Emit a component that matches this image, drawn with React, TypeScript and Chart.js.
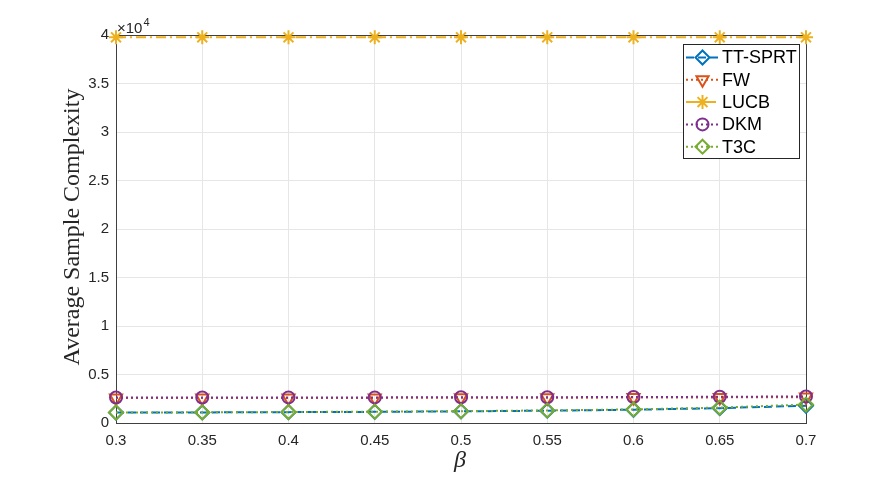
import React, { useEffect, useRef } from 'react';
import { Chart, registerables } from 'chart.js';
Chart.register(...registerables);

// ---- data ----
const betas = [0.3, 0.35, 0.4, 0.45, 0.5, 0.55, 0.6, 0.65, 0.7];
const ttSprt = [1070, 1090, 1120, 1150, 1200, 1270, 1370, 1530, 1780];
const fw = [2580, 2580, 2590, 2590, 2600, 2610, 2620, 2640, 2670];
const lucb = [39760, 39760, 39760, 39760, 39760, 39760, 39760, 39760, 39760];
const dkm = [2630, 2630, 2640, 2640, 2650, 2660, 2680, 2700, 2740];
const t3c = [1080, 1100, 1130, 1170, 1220, 1300, 1400, 1590, 1900];
const xTicks = [0.3, 0.35, 0.4, 0.45, 0.5, 0.55, 0.6, 0.65, 0.7];
const yTicks = [0, 5000, 10000, 15000, 20000, 25000, 30000, 35000, 40000];
const seriesNames = ['TT-SPRT', 'FW', 'LUCB', 'DKM', 'T3C'];
const xTitle = 'β';
const yTitle = 'Average Sample Complexity';

type Style = { color: string; dash: number[]; marker: string; r: number };
const styles: Style[] = [
  { color: '#0072BD', dash: [8, 4], marker: 'diamond', r: 7 },
  { color: '#D95319', dash: [2, 3], marker: 'triDown', r: 7 },
  { color: '#EDB120', dash: [10, 4, 2, 4], marker: 'star', r: 7 },
  { color: '#7E2F8E', dash: [2, 3], marker: 'circle', r: 6 },
  { color: '#77AC30', dash: [2, 3], marker: 'diamond', r: 7 },
];
const seriesValues = [ttSprt, fw, lucb, dkm, t3c];

const SANS = '"Liberation Sans", Arial, Helvetica, sans-serif';
const SERIF = '"Liberation Serif", "Times New Roman", serif';
const AXIS = '#262626';

function drawMarker(ctx: CanvasRenderingContext2D, m: string, x: number, y: number, r: number) {
  ctx.beginPath();
  if (m === 'diamond') {
    ctx.moveTo(x, y - r); ctx.lineTo(x + r, y); ctx.lineTo(x, y + r); ctx.lineTo(x - r, y); ctx.closePath();
  } else if (m === 'triDown') {
    for (let k = 0; k < 3; k++) {
      const a = Math.PI + (k * 2 * Math.PI) / 3;
      const px = x + Math.sin(a) * r, py = y - Math.cos(a) * r;
      if (k === 0) ctx.moveTo(px, py); else ctx.lineTo(px, py);
    }
    ctx.closePath();
  } else if (m === 'star') {
    for (let k = 0; k < 4; k++) {
      const a = (k * Math.PI) / 4;
      ctx.moveTo(x - Math.cos(a) * r, y - Math.sin(a) * r);
      ctx.lineTo(x + Math.cos(a) * r, y + Math.sin(a) * r);
    }
  } else {
    ctx.arc(x, y, r, 0, Math.PI * 2);
  }
  ctx.stroke();
}

const overlay = {
  id: 'overlay',
  beforeDatasetsDraw(chart: any) {
    const { ctx, chartArea: a } = chart;
    ctx.save();
    ctx.strokeStyle = '#404040';
    ctx.lineWidth = 1;
    ctx.setLineDash([]);
    ctx.strokeRect(Math.round(a.left) + 0.5, Math.round(a.top) + 0.5, Math.round(a.right - a.left), Math.round(a.bottom - a.top));
    ctx.restore();
  },
  afterDraw(chart: any) {
    const { ctx, chartArea: a } = chart;
    ctx.save();
    ctx.fillStyle = AXIS;
    // exponent
    ctx.font = `15px ${SANS}`;
    ctx.textAlign = 'left';
    ctx.textBaseline = 'alphabetic';
    ctx.fillText('×10', a.left + 1, a.top - 2);
    const w = ctx.measureText('×10').width;
    ctx.font = `11px ${SANS}`;
    ctx.fillText('4', a.left + 2 + w, a.top - 9);
    // y title
    ctx.font = `20px ${SERIF}`;
    const tw = ctx.measureText(yTitle).width;
    const fs = (20 * 277) / tw;
    ctx.font = `${fs.toFixed(1)}px ${SERIF}`;
    ctx.translate(79, (a.top + a.bottom) / 2 - 2);
    ctx.rotate(-Math.PI / 2);
    ctx.textAlign = 'center';
    ctx.fillText(yTitle, 0, 0);
    ctx.setTransform(1, 0, 0, 1, 0, 0);
    // x title
    ctx.font = `italic 24px ${SERIF}`;
    ctx.textAlign = 'center';
    ctx.fillText(xTitle, 460, 467);
    // legend
    const lx = 683, ly = 44, lw = 116, lh = 114;
    ctx.fillStyle = '#ffffff';
    ctx.fillRect(lx, ly, lw, lh);
    ctx.strokeStyle = AXIS;
    ctx.lineWidth = 1;
    ctx.strokeRect(lx + 0.5, ly + 0.5, lw, lh);
    ctx.font = `18px ${SANS}`;
    ctx.textAlign = 'left';
    ctx.textBaseline = 'middle';
    seriesNames.forEach((name, i) => {
      const s = styles[i];
      const y = 57.5 + i * 22.3;
      ctx.strokeStyle = s.color;
      ctx.lineWidth = 2;
      ctx.setLineDash(s.dash);
      ctx.beginPath();
      ctx.moveTo(686, y);
      ctx.lineTo(719, y);
      ctx.stroke();
      ctx.setLineDash([]);
      drawMarker(ctx, s.marker, 702.5, y, s.r);
      ctx.fillStyle = '#000';
      ctx.fillText(name, 722, y + 1);
    });
    ctx.restore();
  },
};

export default function App() {
  const ref = useRef<HTMLCanvasElement | null>(null);
  useEffect(() => {
    if (!ref.current) return;
    const pointStyleMap: Record<string, any> = { diamond: 'rectRot', triDown: 'triangle', star: 'star', circle: 'circle' };
    const datasets = seriesNames.map((name, i) => {
      const s = styles[i];
      return {
        label: name,
        data: betas.map((b, j) => ({ x: b, y: seriesValues[i][j] })),
        borderColor: s.color,
        backgroundColor: 'rgba(0,0,0,0)',
        borderWidth: 2,
        borderDash: s.dash,
        pointStyle: pointStyleMap[s.marker],
        rotation: s.marker === 'triDown' ? 180 : 0,
        pointRadius: s.r,
        pointBorderWidth: 2,
        pointBorderColor: s.color,
        pointBackgroundColor: 'rgba(0,0,0,0)',
        tension: 0,
        clip: false as any,
        order: 5 - i,
      };
    });
    const chart = new Chart(ref.current, {
      type: 'line',
      data: { datasets },
      plugins: [overlay],
      options: {
        animation: false,
        responsive: false,
        devicePixelRatio: 1,
        layout: { padding: { top: 35, right: 85, left: 0, bottom: 0 } },
        plugins: { legend: { display: false }, tooltip: { enabled: false } },
        scales: {
          x: {
            type: 'linear',
            min: 0.3,
            max: 0.7,
            afterBuildTicks: (s: any) => { s.ticks = xTicks.map((v) => ({ value: v })); },
            afterFit: (s: any) => { s.height = 54; },
            ticks: {
              autoSkip: false,
              maxRotation: 0,
              padding: 9,
              color: AXIS,
              font: { family: SANS, size: 15 },
              callback: (v: any) => String(+Number(v).toFixed(2)),
            },
            grid: { color: '#e6e6e6', drawTicks: false },
            border: { display: false },
          },
          y: {
            type: 'linear',
            min: 0,
            max: 40000,
            afterBuildTicks: (s: any) => { s.ticks = yTicks.map((v) => ({ value: v })); },
            afterFit: (s: any) => { s.width = 116; },
            ticks: {
              padding: 7,
              color: AXIS,
              font: { family: SANS, size: 15 },
              callback: (v: any) => String(+(Number(v) / 10000).toFixed(2)),
            },
            grid: { color: '#e6e6e6', drawTicks: false },
            border: { display: false },
          },
        },
      },
    });
    return () => chart.destroy();
  }, []);
  return (
    <div style={{ position: 'absolute', left: 0, top: 0, width: 891, height: 477, background: '#fff' }}>
      <canvas ref={ref} width={891} height={477} style={{ width: 891, height: 477, display: 'block' }} />
    </div>
  );
}
